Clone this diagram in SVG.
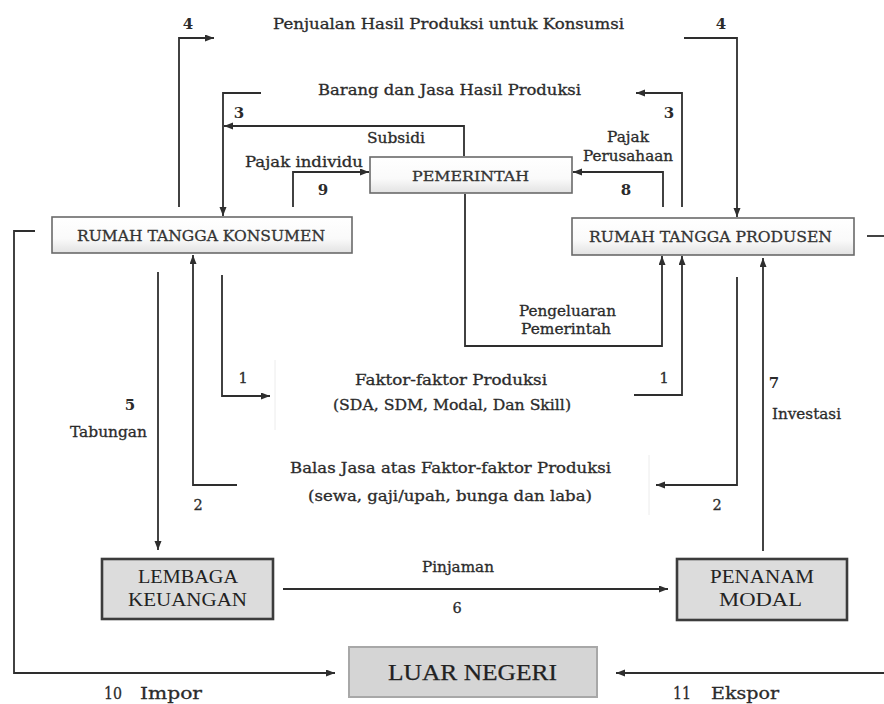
<svg xmlns="http://www.w3.org/2000/svg" width="884" height="704" viewBox="0 0 884 704">
<style>
  .t { font-family: "DejaVu Serif", "Liberation Serif", serif; fill: #2b2b2b; stroke: #2b2b2b; stroke-width: 0.3; font-size: 14.5px; }
  .n { font-family: "DejaVu Serif", "Liberation Serif", serif; fill: #2b2b2b; font-size: 15px; font-weight: bold; }
  .bt { font-family: "DejaVu Serif", "Liberation Serif", serif; fill: #333; stroke: #333; stroke-width: 0.3; font-size: 15px; }
  .s13 { font-size: 13.5px; }
  .s16 { font-size: 16.5px; }
  .tm { font-family: "Liberation Serif", "DejaVu Serif", serif; fill: #222; stroke: none; }
  .s18 { font-size: 18px; }
  .s23 { font-size: 24px; stroke: #222; stroke-width: 0.25; }
  .bx1 { fill: url(#g1); stroke: #6a6a6a; stroke-width: 1.6; }
  .bx2 { fill: #dcdcdc; stroke: #3c3c3c; stroke-width: 2.6; }
  .bx3 { fill: #d5d5d5; stroke: #a8a8a8; stroke-width: 2; }
  .c { fill: none; stroke: #2e2e2e; stroke-width: 1.8; }
  .ca { fill: none; stroke: #2e2e2e; stroke-width: 1.8; marker-end: url(#ah); }
  .faint { stroke: #ececec; stroke-width: 1; fill: none; }
</style>
<defs>
  <linearGradient id="g1" x1="0" y1="0" x2="0" y2="1">
    <stop offset="0" stop-color="#ffffff"/>
    <stop offset="0.6" stop-color="#fafafa"/>
    <stop offset="1" stop-color="#e2e2e2"/>
  </linearGradient>
  <marker id="ah" markerUnits="userSpaceOnUse" markerWidth="10" markerHeight="8" refX="9" refY="3.5" orient="auto">
    <path d="M0,0 L9,3.5 L0,7 z" fill="#2e2e2e"/>
  </marker>
</defs>
<rect width="884" height="704" fill="#ffffff"/>

<g id="faint-areas">
  <path class="faint" d="M275,360 V430"/>
  <path class="faint" d="M649,455 V515"/>
</g>

<g id="connectors">
  <path class="ca" d="M179,207 V38 H214"/>
  <path class="ca" d="M684,38 H737 V217"/>
  <path class="ca" d="M261,93 H223 V216"/>
  <path class="ca" d="M682,207 V93 H636"/>
  <path class="ca" d="M464,156 V126 H224"/>
  <path class="ca" d="M293,207 V172 H369"/>
  <path class="ca" d="M663,207 V172 H573"/>
  <path class="ca" d="M465,194 V346 H662 V256"/>
  <path class="ca" d="M222,275 V396 H270"/>
  <path class="ca" d="M634,395 H682 V256"/>
  <path class="ca" d="M237,485 H193 V255"/>
  <path class="ca" d="M737,277 V485 H656"/>
  <path class="ca" d="M158,272 V550"/>
  <path class="ca" d="M763,551 V258"/>
  <path class="ca" d="M283,589 H668"/>
  <path class="ca" d="M35,231 H14 V673 H335"/>
  <path class="ca" d="M884,673 H616"/>
  <path class="c" d="M867,236 H884"/>
</g>

<g id="rumah-tangga-konsumen">
  <rect class="bx1" x="52" y="217" width="300" height="36"/>
  <text class="bt" x="77" y="241" textLength="248" lengthAdjust="spacingAndGlyphs">RUMAH TANGGA KONSUMEN</text>
</g>
<g id="rumah-tangga-produsen">
  <rect class="bx1" x="572" y="218" width="282" height="37"/>
  <text class="bt" x="589" y="242" textLength="243" lengthAdjust="spacingAndGlyphs">RUMAH TANGGA PRODUSEN</text>
</g>
<g id="pemerintah">
  <rect class="bx1" x="370" y="157" width="202" height="36"/>
  <text class="bt s13" x="412" y="181" textLength="117" lengthAdjust="spacingAndGlyphs">PEMERINTAH</text>
</g>
<g id="lembaga-keuangan">
  <rect class="bx2" x="102" y="559" width="171" height="60"/>
  <text class="tm s18" x="138" y="583" textLength="100" lengthAdjust="spacingAndGlyphs">LEMBAGA</text>
  <text class="tm s18" x="128" y="606" textLength="119" lengthAdjust="spacingAndGlyphs">KEUANGAN</text>
</g>
<g id="penanam-modal">
  <rect class="bx2" x="677" y="559" width="170" height="61"/>
  <text class="tm s18" x="710" y="583" textLength="104" lengthAdjust="spacingAndGlyphs">PENANAM</text>
  <text class="tm s18" x="719" y="606" textLength="83" lengthAdjust="spacingAndGlyphs">MODAL</text>
</g>
<g id="luar-negeri">
  <rect class="bx3" x="349" y="647" width="248" height="50"/>
  <text class="tm s23" x="388" y="680" textLength="169" lengthAdjust="spacingAndGlyphs">LUAR NEGERI</text>
</g>

<g id="labels">
  <text class="t" x="273" y="29" textLength="351" lengthAdjust="spacingAndGlyphs">Penjualan Hasil Produksi untuk Konsumsi</text>
  <text class="t" x="318" y="95" textLength="263" lengthAdjust="spacingAndGlyphs">Barang dan Jasa Hasil Produksi</text>
  <text class="t" x="367" y="143" textLength="58" lengthAdjust="spacingAndGlyphs">Subsidi</text>
  <text class="t" x="245" y="167" textLength="118" lengthAdjust="spacingAndGlyphs">Pajak individu</text>
  <text class="t" x="607" y="142" textLength="42" lengthAdjust="spacingAndGlyphs">Pajak</text>
  <text class="t" x="583" y="161" textLength="90" lengthAdjust="spacingAndGlyphs">Perusahaan</text>
  <text class="t" x="519" y="316" textLength="97" lengthAdjust="spacingAndGlyphs">Pengeluaran</text>
  <text class="t" x="521" y="334" textLength="90" lengthAdjust="spacingAndGlyphs">Pemerintah</text>
  <text class="t" x="355" y="385" textLength="192" lengthAdjust="spacingAndGlyphs">Faktor-faktor Produksi</text>
  <text class="t" x="333" y="410" textLength="238" lengthAdjust="spacingAndGlyphs">(SDA, SDM, Modal, Dan Skill)</text>
  <text class="t" x="290" y="473" textLength="321" lengthAdjust="spacingAndGlyphs">Balas Jasa atas Faktor-faktor Produksi</text>
  <text class="t" x="308" y="501" textLength="284" lengthAdjust="spacingAndGlyphs">(sewa, gaji/upah, bunga dan laba)</text>
  <text class="t" x="70" y="437" textLength="77" lengthAdjust="spacingAndGlyphs">Tabungan</text>
  <text class="t" x="772" y="419" textLength="69" lengthAdjust="spacingAndGlyphs">Investasi</text>
  <text class="t" x="422" y="572" textLength="72" lengthAdjust="spacingAndGlyphs">Pinjaman</text>
  <text class="t s16" x="104" y="699" textLength="18" lengthAdjust="spacingAndGlyphs">10</text>
  <text class="t s16" x="140" y="699" textLength="62" lengthAdjust="spacingAndGlyphs">Impor</text>
  <text class="t s16" x="673" y="699" textLength="18" lengthAdjust="spacingAndGlyphs">11</text>
  <text class="t s16" x="711" y="699" textLength="68" lengthAdjust="spacingAndGlyphs">Ekspor</text>
</g>

<g id="numbers">
  <text class="n" x="188" y="29" text-anchor="middle">4</text>
  <text class="n" x="721" y="29" text-anchor="middle">4</text>
  <text class="n" x="239" y="118" text-anchor="middle">3</text>
  <text class="n" x="669" y="118" text-anchor="middle">3</text>
  <text class="n" x="323" y="195" text-anchor="middle">9</text>
  <text class="n" x="626" y="195" text-anchor="middle">8</text>
  <text class="t" x="243" y="383" text-anchor="middle">1</text>
  <text class="t" x="664" y="383" text-anchor="middle">1</text>
  <text class="n" x="130" y="410" text-anchor="middle">5</text>
  <text class="n" x="774" y="388" text-anchor="middle">7</text>
  <text class="t" x="198" y="510" text-anchor="middle">2</text>
  <text class="t" x="717" y="510" text-anchor="middle">2</text>
  <text class="t" x="457" y="613" text-anchor="middle">6</text>
</g>
</svg>
